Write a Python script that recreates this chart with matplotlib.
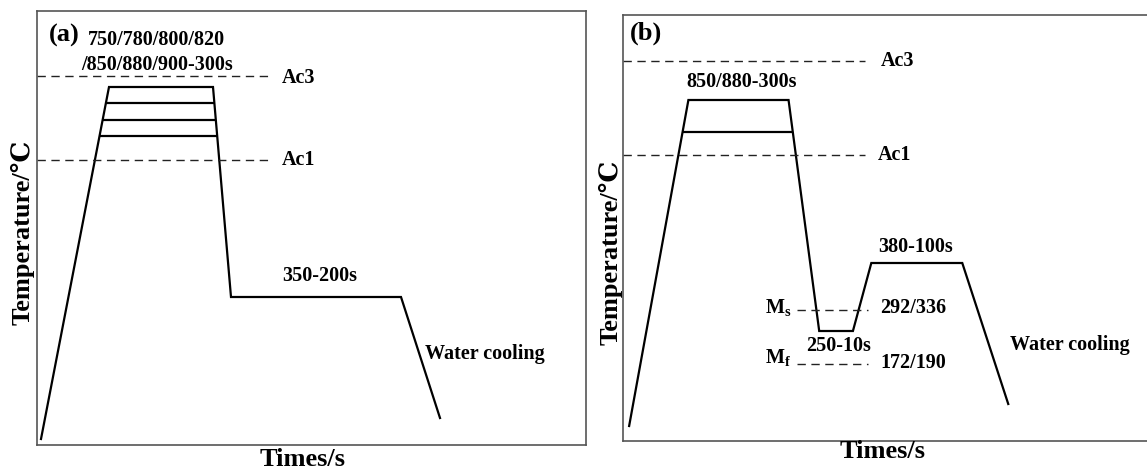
import numpy as np
import matplotlib
matplotlib.use("Agg")
import matplotlib.pyplot as plt

plt.rcParams['font.family'] = ['Liberation Serif', 'DejaVu Serif']
plt.rcParams['font.weight'] = 'bold'
plt.rcParams['mathtext.fontset'] = 'custom'
plt.rcParams['mathtext.bf'] = 'Liberation Serif:bold'
plt.rcParams['mathtext.rm'] = 'Liberation Serif:bold'

# ---------------- data (schematic units) ----------------
# Panel (a): heat treatment route
a_time = [4, 72, 176, 194, 364, 403]
a_temp = [6, 358, 358, 148, 148, 27]
a_extra_levels = [342, 325, 309]          # lower austenitising plateaus
a_ac3, a_ac1 = 369, 285
a_dash_end = 235
a_xlim, a_ylim = (0, 549), (0, 434)

# Panel (b)
b_time = [6, 64, 162, 192, 225, 243, 332, 377]
b_temp = [15, 341, 341, 110, 110, 178, 178, 37]
b_extra_levels = [309]
b_ac3, b_ac1 = 380, 286
b_dash_end = 237
b_ms, b_mf = 131, 77
b_m_start, b_m_end = 170, 240
b_xlim, b_ylim = (0, 524), (0, 426)

# labels
a_texts = ["(a)", "750/780/800/820", "/850/880/900-300s", "350-200s", "Water cooling"]
b_texts = ["(b)", "850/880-300s", "250-10s", "380-100s", "Water cooling"]
ms_vals, mf_vals = "292/336", "172/190"

W, H = 1147, 470
fig = plt.figure(figsize=(W / 100, H / 100), dpi=100)

spine_col = '#555555'
FS = 14.5
FS_BIG = 19


def setup(ax, xlim, ylim):
    ax.set_xlim(*xlim)
    ax.set_ylim(*ylim)
    ax.set_xticks([])
    ax.set_yticks([])
    for s in ax.spines.values():
        s.set_color(spine_col)
        s.set_linewidth(1.2)


def level_line(ax, t, T, level):
    # end points of an intermediate plateau lie on the heating / cooling ramps
    x0 = np.interp(level, [T[0], T[1]], [t[0], t[1]])
    x1 = np.interp(level, [T[3], T[2]], [t[3], t[2]])
    ax.plot([x0, x1], [level, level], color='black', lw=1.6, solid_capstyle='butt')


# ---------------- panel (a) ----------------
axa = fig.add_axes([37 / W, 1 - 445 / H, 549 / W, 434 / H])
setup(axa, a_xlim, a_ylim)
axa.plot(a_time, a_temp, color='black', lw=1.6, solid_joinstyle='miter')
for lv in a_extra_levels:
    level_line(axa, a_time, a_temp, lv)
for lv in (a_ac3, a_ac1):
    axa.plot([0, a_dash_end], [lv, lv], color='#222222', lw=1.0, dashes=(6, 4))
axa.text(245, a_ac3 - 2, "Ac3", fontsize=FS, va='center', ha='left')
axa.text(245, a_ac1, "Ac1", fontsize=FS, va='center', ha='left')
axa.text(12, 410, a_texts[0], fontsize=FS_BIG, va='center', ha='left')
axa.text(51, 405, a_texts[1], fontsize=FS, va='center', ha='left')
axa.text(44, 380, a_texts[2], fontsize=FS, va='center', ha='left')
axa.text(245, 169, a_texts[3], fontsize=FS, va='center', ha='left')
axa.text(388, 91, a_texts[4], fontsize=FS, va='center', ha='left')

# ---------------- panel (b) ----------------
axb = fig.add_axes([623 / W, 1 - 441 / H, 1 - 623 / W + 0.01, 426 / H])
setup(axb, b_xlim, b_ylim)
axb.spines['right'].set_visible(False)
axb.plot(b_time, b_temp, color='black', lw=1.6, solid_joinstyle='miter')
for lv in b_extra_levels:
    level_line(axb, b_time, b_temp, lv)
for lv in (b_ac3, b_ac1):
    axb.plot([0, b_dash_end], [lv, lv], color='#222222', lw=1.0, dashes=(6, 4))
for lv in (b_ms, b_mf):
    axb.plot([b_m_start, b_m_end], [lv, lv], color='#222222', lw=1.0, dashes=(6, 4))
axb.text(252, b_ac3, "Ac3", fontsize=FS, va='center', ha='left')
axb.text(249, b_ac1, "Ac1", fontsize=FS, va='center', ha='left')
axb.text(7, 408, b_texts[0], fontsize=FS_BIG, va='center', ha='left')
axb.text(62, 359, b_texts[1], fontsize=FS, va='center', ha='left')
axb.text(179, 95, b_texts[2], fontsize=FS, va='center', ha='left')
axb.text(250, 194, b_texts[3], fontsize=FS, va='center', ha='left')
axb.text(379, 96, b_texts[4], fontsize=FS, va='center', ha='left')
axb.text(252, b_ms + 2, ms_vals, fontsize=FS, va='center', ha='left')
axb.text(252, b_mf + 1, mf_vals, fontsize=FS, va='center', ha='left')
axb.text(139, b_ms + 3, r"$\mathbf{M_s}$", fontsize=FS, va='center', ha='left')
axb.text(139, b_mf + 7, r"$\mathbf{M_f}$", fontsize=FS, va='center', ha='left')

# ---------------- axis titles ----------------
fig.text(23 / W, 1 - 232 / H, "Temperature/\u2103", rotation=90, fontsize=FS_BIG,
         va='center', ha='center')
fig.text(611 / W, 1 - 252 / H, "Temperature/\u2103", rotation=90, fontsize=FS_BIG,
         va='center', ha='center')
fig.text(303 / W, 1 - 459 / H, "Times/s", fontsize=FS_BIG, va='center', ha='center')
fig.text(883 / W, 1 - 452 / H, "Times/s", fontsize=FS_BIG, va='center', ha='center')

fig.savefig("out.png", dpi=100)
